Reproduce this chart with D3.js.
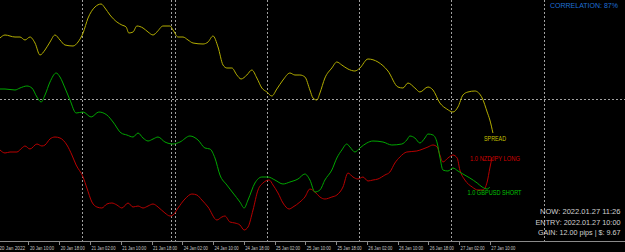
<!DOCTYPE html>
<html><head><meta charset="utf-8">
<script src="https://cdn.jsdelivr.net/npm/d3@7/dist/d3.min.js"></script>
<style>html,body{margin:0;padding:0;background:#000;overflow:hidden}</style>
</head><body><svg id="c" width="625" height="252"></svg>
<script>
// ---- data (time in trading hours since 20 Jan 02:00; values are normalized indicator units) ----
const tickHours = [0,8,16,24,32,40,48,56,64,72,80,88,96,104,112,120,128];
const tickLabels = ["20 Jan 2022","20 Jan 10:00","20 Jan 18:00","21 Jan 02:00","21 Jan 10:00","21 Jan 18:00",
  "24 Jan 02:00","24 Jan 10:00","24 Jan 18:00","25 Jan 02:00","25 Jan 10:00","25 Jan 18:00",
  "26 Jan 02:00","26 Jan 10:00","26 Jan 18:00","27 Jan 02:00","27 Jan 10:00"];
const daySeparatorHours = [22, 45.2, 46, 70, 94, 118, 142];
const entryLevel = 141;

const spreadHours = [0.6,1.9,4.5,5.8,7.1,8.4,9.7,11.0,12.3,13.6,14.9,16.2,17.5,19.6,20.9,22.2,23.5,25.3,26.9,27.9,
  29.2,31.0,32.3,33.4,34.1,35.2,36.2,37.8,39.1,40.4,41.4,43.0,44.8,45.6,46.9,48.2,49.5,50.8,53.4,54.7,
  56.0,57.3,58.6,59.6,60.9,62.2,63.3,64.8,66.1,67.4,68.7,70.0,71.3,72.6,74.2,76.0,77.3,78.6,79.9,81.2,
  82.0,83.0,83.8,85.1,86.9,88.2,89.5,91.1,92.9,94.2,96.3,98.9,101.5,104.1,105.4,106.7,108.5,109.8,111.9,113.2,
  115.0,116.8,118.4,119.7,121.0,122.3,124.1,126.0,127.3,128.0,128.8];
const spreadValues = [202,205,203,203,200,203,197,185,190,198,205,200,195,194,198,207,222,233,236,232,
  225,218,215,213,207,208,214,212,208,205,208,214,214,210,203,203,200,197,196,198,
  204,193,175,172,172,165,161,165,170,162,152,148,144,151,160,167,165,165,163,150,
  142,140,147,162,172,178,175,171,169,172,181,178,169,153,152,157,152,148,153,150,
  137,131,128,133,145,148,149,142,128,120,107];

const gbpusdHours = [0.6,1.9,4.5,5.8,7.6,8.9,10.2,11.3,12.3,13.6,15.2,16.2,17.5,18.8,20.4,22.2,24.3,26.3,28.4,30.0,
  32.1,33.6,35.2,36.5,37.8,39.1,40.4,41.7,43.5,45.6,47.4,50.0,52.1,53.9,55.2,56.5,57.8,59.6,61.2,63.0,
  64.1,65.1,66.9,68.7,70.3,72.1,74.2,76.0,78.1,79.9,81.2,82.5,83.8,85.1,86.9,88.2,89.5,90.8,91.6,92.9,
  94.2,96.0,97.6,100.2,102.5,105.1,106.4,107.2,108.5,109.8,111.1,111.9,113.2,114.3,115.0,115.8,117.1,118.4,119.7,121.0,
  122.8,124.7,126.0,127.3,128.0];
const gbpusdValues = [151,151,150,152,154,152,143,138,145,158,167,163,152,140,127,128,123,128,125,118,
  107,105,103,107,102,99,101,103,98,96,98,104,100,92,91,82,65,55,47,38,
  32,40,57,63,63,60,56,58,61,66,60,48,50,60,70,82,90,96,93,88,
  92,97,99,98,95,96,100,104,102,97,102,106,105,97,83,70,69,72,69,66,
  62,57,53,51,53];

const nzdjpyHours = [0.6,1.9,3.2,5.0,6.3,7.1,8.4,10.2,11.5,12.3,13.6,14.9,16.2,18.0,19.3,20.4,22.2,23.2,24.5,25.8,
  27.1,28.4,29.7,31.0,32.3,33.9,35.2,36.5,37.8,39.1,40.4,41.7,43.5,44.8,45.6,46.9,48.7,50.5,51.8,53.1,
  54.7,57.0,58.3,59.1,60.4,61.7,63.0,64.1,65.1,66.4,67.7,69.0,70.6,71.6,72.9,74.2,75.8,76.8,78.6,79.9,
  81.2,82.5,83.8,85.1,86.9,88.2,89.8,91.1,92.4,93.7,95.0,96.3,97.6,98.9,100.7,102.0,103.3,104.6,106.4,109.0,
  110.6,111.9,113.2,114.3,115.0,115.8,117.1,118.4,119.5,120.2,121.5,123.4,124.9,126.2,127.3,128.0,128.6];
const nzdjpyValues = [90,87,88,88,92,94,91,96,94,95,101,103,102,95,85,75,63,52,38,33,
  32,36,37,35,32,37,33,34,32,34,36,33,27,24,25,32,41,46,45,40,
  33,20,23,24,18,17,15,10,13,30,50,57,60,55,47,37,31,33,38,43,
  51,48,43,41,43,45,53,67,63,61,63,59,60,61,65,68,77,83,88,89,
  91,93,95,93,85,78,82,85,82,70,60,53,50,50,58,72,83];

const seriesNames = ["SPREAD","1.0 NZDJPY LONG","1.0 GBPUSD SHORT"];
const seriesColors = ["#b3ad00","#b80000","#00a600"];
const labelColors = ["#c9c400","#d00000","#00c000"];
const correlationText = "CORRELATION: 87%";
const infoLines = ["NOW: 2022.01.27 11:26","ENTRY: 2022.01.27 10:00","GAIN: 12.00 pips | $: 9.67"];

// ---- drawing ----
const W = 625, H = 252, axisY = 241.5;
const svg = d3.select("#c");
svg.append("rect").attr("width", W).attr("height", H).attr("fill", "#000");

const x = d3.scaleLinear().domain([0, 163]).range([-2.3, -2.3 + 163 * 3.845]);
const y = d3.scaleLinear().domain([0, 240]).range([240, 0]);

// grid: day separators and entry level
const gridColor = "#a0a0a0";
svg.append("g").selectAll("line").data(daySeparatorHours).join("line")
  .attr("x1", d => Math.round(x(d)) + 0.5).attr("x2", d => Math.round(x(d)) + 0.5)
  .attr("y1", 0).attr("y2", axisY)
  .attr("stroke", gridColor).attr("stroke-width", 1).attr("stroke-dasharray", "2,2")
  .attr("shape-rendering", "crispEdges");
svg.append("line")
  .attr("x1", 0).attr("x2", W)
  .attr("y1", Math.round(y(entryLevel)) + 0.5).attr("y2", Math.round(y(entryLevel)) + 0.5)
  .attr("stroke", gridColor).attr("stroke-width", 1).attr("stroke-dasharray", "2,2")
  .attr("shape-rendering", "crispEdges");

// series lines
const series = [
  {h: spreadHours, v: spreadValues},
  {h: nzdjpyHours, v: nzdjpyValues},
  {h: gbpusdHours, v: gbpusdValues}
];
const line = d3.line().x(d => x(d[0])).y(d => y(d[1])).curve(d3.curveMonotoneX);
series.forEach((s, i) => {
  const pts = s.h.map((h, j) => [h, s.v[j]]);
  svg.append("path").datum(pts).attr("d", line)
    .attr("fill", "none").attr("stroke", seriesColors[i]).attr("stroke-width", 1);
});

// series labels
const labelPos = [{cx: 495, by: 140.7, w: 22}, {cx: 495, by: 160.6, w: 50}, {cx: 494.5, by: 194.6, w: 54}];
seriesNames.forEach((n, i) => {
  svg.append("text").text(n)
    .attr("x", labelPos[i].cx).attr("y", labelPos[i].by)
    .attr("text-anchor", "middle")
    .attr("font-family", "'Liberation Sans', Arial, sans-serif").attr("font-size", 6.4)
    .attr("textLength", labelPos[i].w).attr("lengthAdjust", "spacingAndGlyphs")
    .attr("fill", labelColors[i]);
});

// x axis
const axis = d3.axisBottom(x).tickValues(tickHours)
  .tickFormat((d, i) => tickLabels[i]).tickSizeInner(3).tickSizeOuter(0).tickPadding(2);
const ag = svg.append("g").attr("transform", `translate(0,${axisY})`).call(axis);
ag.select(".domain").attr("stroke", "#8a8a8a").attr("d", `M0,0H${W}`).attr("shape-rendering", "crispEdges");
ag.selectAll(".tick line").attr("stroke", "#8a8a8a").attr("shape-rendering", "crispEdges");
ag.selectAll(".tick text")
  .attr("text-anchor", "start").attr("x", 1).attr("y", 8).attr("dy", 0)
  .attr("fill", "#c8c8c8")
  .attr("font-family", "'Liberation Sans', Arial, sans-serif").attr("font-size", 5.1)
  .attr("textLength", (d, i) => i === 0 ? 26 : 24).attr("lengthAdjust", "spacingAndGlyphs");

// correlation text
svg.append("text").text(correlationText)
  .attr("x", 618).attr("y", 8).attr("text-anchor", "end")
  .attr("font-family", "'Liberation Sans', Arial, sans-serif").attr("font-size", 7)
  .attr("textLength", 68).attr("lengthAdjust", "spacingAndGlyphs")
  .attr("fill", "#1f6fd6");

// info text
const infoY = [214, 224.5, 235];
const infoW = [80.5, 85, 82.5];
infoLines.forEach((t, i) => {
  svg.append("text").text(t)
    .attr("x", 620.5).attr("y", infoY[i]).attr("text-anchor", "end")
    .attr("font-family", "'Liberation Sans', Arial, sans-serif").attr("font-size", 7.5)
    .attr("textLength", infoW[i]).attr("lengthAdjust", "spacingAndGlyphs")
    .attr("fill", "#d0d0d0");
});
</script></body></html>
